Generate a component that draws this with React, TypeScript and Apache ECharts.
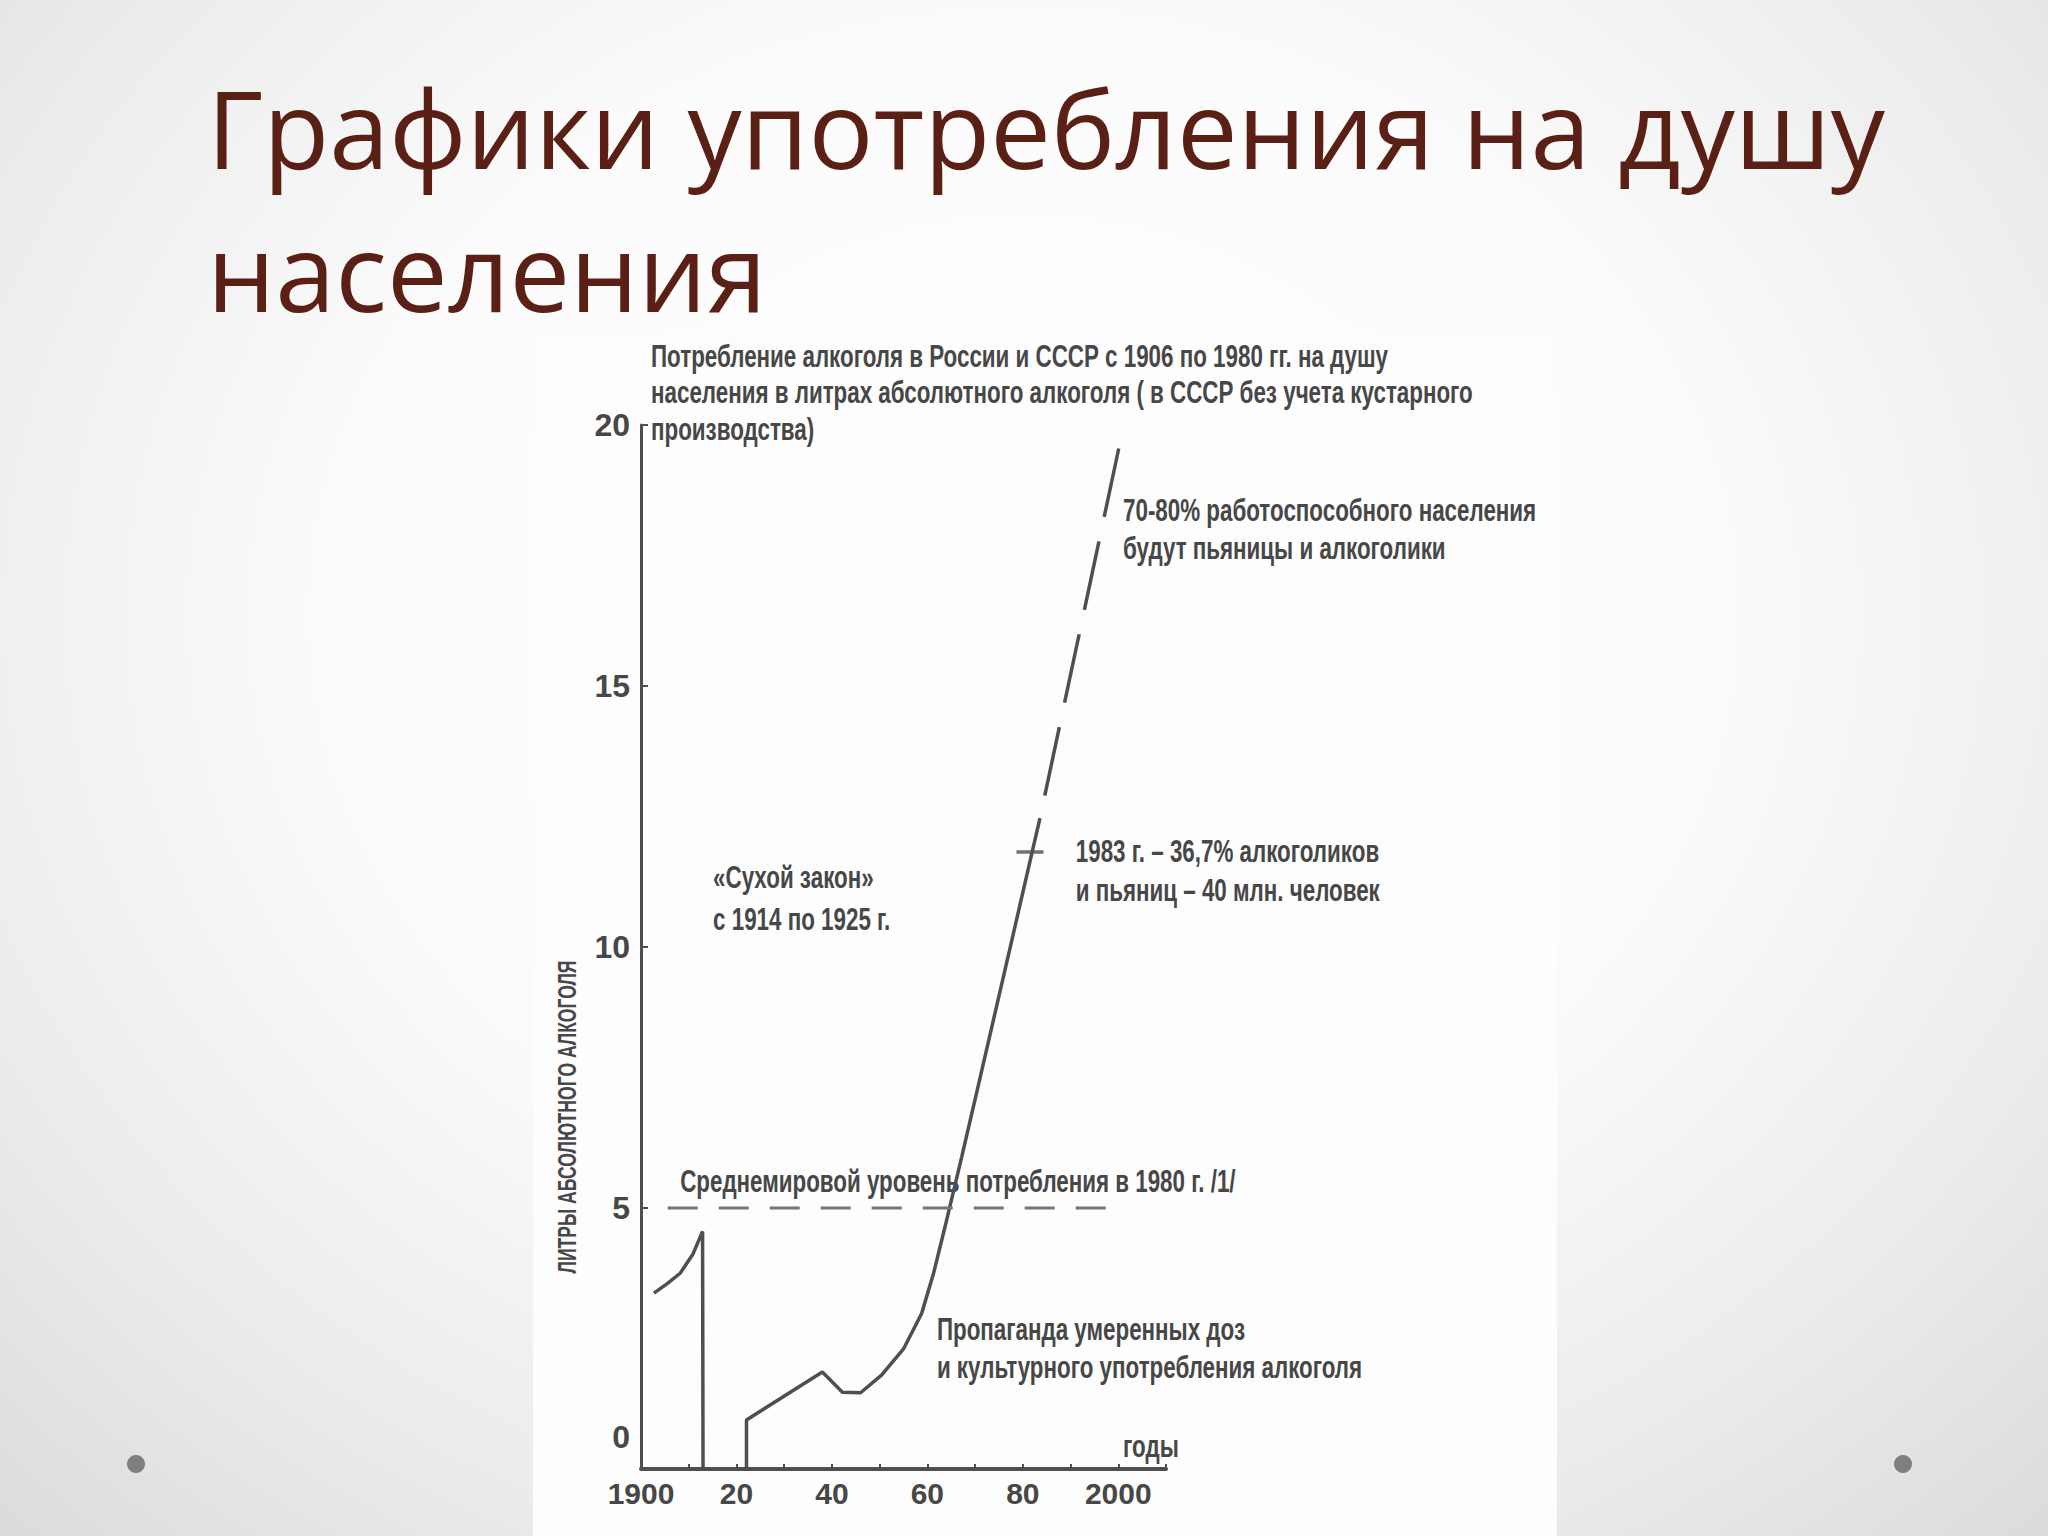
import React, { useEffect, useRef } from 'react';
import * as echarts from 'echarts';

// ---------- data ----------
const xTickYears = [1900, 1920, 1940, 1960, 1980, 2000];
const xTickLabels = ['1900', '20', '40', '60', '80', '2000'];

// Russian Empire, before the prohibition (1914)
const prewarYears = [1902.7, 1905.5, 1908.2, 1910.9, 1912.9, 1913.0];
const prewarValues = [3.37, 3.55, 3.75, 4.12, 4.55, 0];

// USSR, after 1925
const sovietYears = [1922.1, 1922.1, 1938.0, 1942.2, 1946.0, 1950.4, 1955.0, 1958.8, 1961.3, 1963.7, 1967.2, 1970.0, 1977.5, 1981.9, 1983.6];
const sovietValues = [0, 0.94, 1.86, 1.47, 1.46, 1.8, 2.3, 2.98, 3.75, 4.64, 5.98, 7.08, 10.05, 11.8, 12.47];

// forecast (dashed)
const forecastYears = [1984.6, 2000.1];
const forecastValues = [12.9, 19.55];

// world average level in 1980 (dashed horizontal)
const worldAvgYears = [1905.6, 1999.5];
const worldAvgValues = [5, 5];

// 1983 mark on the curve
const markYear = 1981.5;
const markValue = 11.82;

// annotations (text + anchor in data coordinates, left / middle)
const annotationTexts = [
  'Потребление алкоголя в России и СССР с 1906 по 1980 гг. на душу',
  'населения в литрах абсолютного алкоголя ( в СССР без учета кустарного',
  'производства)',
  '«Сухой закон»',
  'с 1914 по 1925 г.',
  '1983 г. – 36,7% алкоголиков',
  'и пьяниц – 40 млн. человек',
  '70-80% работоспособного населения',
  'будут пьяницы и алкоголики',
  'Среднемировой уровень потребления в 1980 г. /1/',
  'Пропаганда умеренных доз',
  'и культурного употребления алкоголя',
  'годы',
];
const annotationYears = [1902.1, 1902.1, 1902.1, 1915.1, 1915.1, 1991.1, 1991.1, 2001.0, 2001.0, 1908.2, 1962.0, 1962.0, 2001.0];
const annotationValues = [21.31, 20.61, 19.91, 11.33, 10.53, 11.83, 11.08, 18.36, 17.63, 5.5, 2.67, 1.94, 0.42];

const yAxisTitle = 'ЛИТРЫ АБСОЛЮТНОГО АЛКОГОЛЯ';
const slideTitleLines = ['Графики употребления на душу', 'населения'];

// ---------- styles ----------
const INK = '#4f4f4f';
const TEXT = '#474747';
const TITLE_COLOR = '#5a2016';
const COND_FONT = "'Liberation Sans Narrow', 'Liberation Sans', Arial, sans-serif";
const LABEL_FONT = "'Liberation Sans', Arial, sans-serif";
const TITLE_FONT = "'Open Sans', 'Noto Sans', sans-serif";

export default function App() {
  const ref = useRef<HTMLDivElement>(null);

  useEffect(() => {
    if (!ref.current) return;
    const chart = echarts.init(ref.current, null, { renderer: 'svg' });

    const canvas = document.createElement('canvas');
    const ctx = canvas.getContext('2d')!;
    const measure = (text: string, font: string) => {
      ctx.font = font;
      return ctx.measureText(text).width;
    };

    const annSize = 31;
    const annScale = 556 / measure(annotationTexts[9], `bold ${annSize}px ${COND_FONT}`);
    const axisNameSize = 25;
    const axisNameScale = 313 / measure(yAxisTitle, `bold ${axisNameSize}px ${LABEL_FONT}`);
    const titleBase = 115;
    const titleSize = titleBase * 1678 / measure(slideTitleLines[0], `${titleBase}px ${TITLE_FONT}`);

    const lineStyle = { color: INK, width: 3.5 };

    chart.setOption({
      animation: false,
      grid: { left: 641, right: 882, top: 425, bottom: 67, containLabel: false },
      xAxis: {
        type: 'value',
        min: 1900,
        max: 2010,
        interval: 10,
        axisLine: { show: true, lineStyle: { color: INK, width: 4 } },
        axisTick: { show: true, inside: true, length: 5, lineStyle: { color: INK, width: 2 } },
        axisLabel: {
          formatter: (v: number) => {
            const i = xTickYears.indexOf(Math.round(v));
            return i >= 0 ? xTickLabels[i] : '';
          },
          color: TEXT,
          fontFamily: LABEL_FONT,
          fontWeight: 'bold',
          fontSize: 30,
          margin: 9,
        },
        splitLine: { show: false },
      },
      yAxis: {
        type: 'value',
        min: 0,
        max: 20,
        interval: 5,
        axisLine: { show: true, lineStyle: { color: INK, width: 3 } },
        axisTick: { show: true, inside: true, length: 7, lineStyle: { color: INK, width: 2 } },
        axisLabel: {
          formatter: (v: number) => (v === 0 ? '{z|0}' : String(v)),
          color: TEXT,
          fontFamily: COND_FONT,
          fontWeight: 'bold',
          fontSize: 32,
          margin: 11,
          rich: {
            z: {
              color: TEXT,
              fontFamily: COND_FONT,
              fontWeight: 'bold',
              fontSize: 32,
              padding: [0, 0, 64, 0],
            },
          },
        },
        splitLine: { show: false },
      },
      series: [
        {
          type: 'line',
          data: prewarYears.map((x, i) => [x, prewarValues[i]]),
          symbol: 'none',
          lineStyle,
          silent: true,
        },
        {
          type: 'line',
          data: sovietYears.map((x, i) => [x, sovietValues[i]]),
          symbol: 'none',
          lineStyle,
          silent: true,
        },
        {
          type: 'line',
          data: forecastYears.map((x, i) => [x, forecastValues[i]]),
          symbol: 'none',
          lineStyle: { color: INK, width: 3.5, type: [70, 25] },
          silent: true,
        },
        {
          type: 'line',
          data: worldAvgYears.map((x, i) => [x, worldAvgValues[i]]),
          symbol: 'none',
          lineStyle: { color: '#757575', width: 3, type: [30, 21] },
          silent: true,
        },
        {
          type: 'scatter',
          data: [[markYear, markValue]],
          symbol: 'rect',
          symbolSize: [27, 3.5],
          itemStyle: { color: INK },
          silent: true,
        },
      ],
    });

    const px = (x: number, y: number) => chart.convertToPixel({ gridIndex: 0 }, [x, y]) as number[];

    const annGraphics = annotationTexts.map((t, i) => {
      const p = px(annotationYears[i], annotationValues[i]);
      return {
        type: 'text',
        x: p[0],
        y: p[1],
        scaleX: annScale,
        silent: true,
        style: {
          text: t,
          fontFamily: COND_FONT,
          fontWeight: 'bold',
          fontSize: annSize,
          fill: TEXT,
          align: 'left',
          verticalAlign: 'middle',
        },
      };
    });

    chart.setOption({
      graphic: [
        {
          type: 'rect',
          z: -10,
          silent: true,
          shape: { x: 533, y: 333, width: 1024, height: 1203 },
          style: {
            fill: new echarts.graphic.LinearGradient(0, 0, 0, 1, [
              { offset: 0, color: 'rgba(253,253,253,0.4)' },
              { offset: 0.06, color: 'rgba(253,253,253,1)' },
              { offset: 1, color: 'rgba(253,253,253,1)' },
            ]),
          },
        },
        {
          type: 'circle',
          silent: true,
          shape: { cx: 136, cy: 1464, r: 9 },
          style: { fill: '#7f7f7f' },
        },
        {
          type: 'circle',
          silent: true,
          shape: { cx: 1903, cy: 1464, r: 9 },
          style: { fill: '#7f7f7f' },
        },
        ...slideTitleLines.map((t, i) => ({
          type: 'text',
          x: 207,
          y: 127 + i * 143,
          silent: true,
          style: {
            text: t,
            fontFamily: TITLE_FONT,
            fontSize: titleSize,
            fill: TITLE_COLOR,
            align: 'left',
            verticalAlign: 'middle',
          },
        })),
        {
          type: 'text',
          x: 567,
          y: 1117,
          rotation: Math.PI / 2,
          scaleX: axisNameScale,
          silent: true,
          style: {
            text: yAxisTitle,
            fontFamily: LABEL_FONT,
            fontWeight: 'bold',
            fontSize: axisNameSize,
            fill: TEXT,
            align: 'center',
            verticalAlign: 'middle',
          },
        },
        ...annGraphics,
      ],
    });

    return () => chart.dispose();
  }, []);

  return (
    <div
      ref={ref}
      style={{
        position: 'absolute',
        left: 0,
        top: 0,
        width: 2048,
        height: 1536,
        background: 'radial-gradient(ellipse 75% 85% at 50% 40%, #ffffff 0%, #fbfbfb 45%, #ebebeb 75%, #d9d9d9 100%)',
      }}
    />
  );
}
